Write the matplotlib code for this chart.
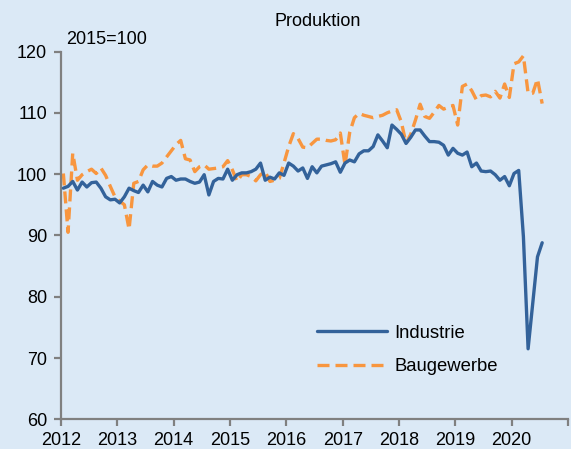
import numpy as np
import matplotlib
matplotlib.use("Agg")
import matplotlib.pyplot as plt

plt.rcParams['font.family'] = ['Liberation Sans', 'DejaVu Sans']

# Monthly data, Jan 2012 .. Jul 2020 (2015=100)
start_year = 2012
industrie = [
    97.7, 98.0, 98.8, 97.4, 98.7, 97.9, 98.6, 98.7, 97.7, 96.3, 95.8, 95.9,   # 2012
    95.3, 96.3, 97.7, 97.3, 97.0, 98.2, 97.1, 98.8, 98.2, 97.9, 99.3, 99.6,   # 2013
    99.0, 99.2, 99.2, 98.8, 98.5, 98.7, 99.9, 96.6, 98.8, 99.3, 99.2, 100.8,  # 2014
    99.0, 99.9, 100.2, 100.2, 100.4, 100.8, 101.8, 99.0, 99.5, 99.2, 100.2, 99.8,  # 2015
    101.8, 101.3, 100.5, 101.0, 99.3, 101.2, 100.2, 101.3, 101.5, 101.7, 102.0, 100.3,  # 2016
    101.8, 102.3, 102.0, 103.3, 103.8, 103.8, 104.5, 106.4, 105.4, 104.3, 108.0, 107.3,  # 2017
    106.5, 105.0, 106.0, 107.2, 107.2, 106.2, 105.3, 105.3, 105.2, 104.7, 103.1, 104.2,  # 2018
    103.4, 103.1, 103.6, 101.2, 101.8, 100.5, 100.4, 100.5, 99.9, 99.0, 99.6, 98.1,  # 2019
    100.1, 100.6, 89.8, 71.5, 79.0, 86.5, 88.8,  # 2020
]
baugewerbe = [
    100.1, 90.5, 103.4, 99.0, 99.9, 100.4, 100.8, 100.1, 101.0, 99.8, 98.0, 96.3,  # 2012
    95.6, 95.0, 91.0, 98.5, 98.8, 100.7, 101.5, 101.3, 101.3, 101.8, 102.8, 103.8,  # 2013
    104.8, 105.5, 102.5, 102.3, 100.4, 101.2, 101.5, 100.8, 100.9, 101.0, 101.2, 102.2,  # 2014
    100.7, 98.8, 99.9, 99.9, 99.6, 98.9, 99.9, 100.4, 98.8, 99.0, 99.3, 101.8,  # 2015
    104.5, 106.6, 105.8, 104.4, 104.3, 105.0, 105.7, 105.7, 105.5, 105.4, 105.6, 106.7,  # 2016
    101.5, 106.8, 109.2, 109.9, 109.6, 109.4, 109.2, 109.4, 109.6, 110.0, 110.3, 110.5,  # 2017
    108.5, 105.0, 106.5, 108.8, 111.4, 109.4, 109.1, 110.1, 111.2, 110.6, 110.9, 111.2,  # 2018
    108.0, 114.3, 114.7, 113.6, 112.1, 112.8, 112.9, 112.6, 113.5, 112.4, 114.7, 112.5,  # 2019
    118.0, 118.3, 119.3, 113.2, 113.2, 115.5, 111.5,  # 2020
]
series_labels = ["Industrie", "Baugewerbe"]
title = "Produktion"
base_note = "2015=100"
year_ticks = list(range(2012, 2022))
year_labels = [str(y) for y in range(2012, 2021)] + [""]
y_ticks = [60, 70, 80, 90, 100, 110, 120]

n = len(industrie)
x = start_year + (np.arange(n) + 0.5) / 12.0

bg = '#dbe9f6'
fig = plt.figure(figsize=(5.71, 4.49), dpi=100, facecolor=bg)
ax = fig.add_axes([61/571, 1 - 419.3/449, 507/571, (419.3 - 51.5)/449])
ax.set_facecolor(bg)

ax.plot(x, industrie, color='#33629a', lw=2.4, label=series_labels[0],
        solid_joinstyle='round', solid_capstyle='round', zorder=3)
ax.plot(x, baugewerbe, color='#f8963f', lw=2.4, ls=(0, (3.6, 1.8)),
        label=series_labels[1], zorder=2)

ax.set_xlim(2012, 2021)
ax.set_ylim(60, 120)
ax.set_xticks(year_ticks)
ax.set_xticklabels(year_labels)
ax.set_yticks(y_ticks)

for s in ['top', 'right']:
    ax.spines[s].set_visible(False)
for s in ['left', 'bottom']:
    ax.spines[s].set_color('#808080')
    ax.spines[s].set_linewidth(1.6)
ax.tick_params(axis='both', direction='out', length=5, width=1.6, color='#808080',
               labelsize=13, labelcolor='black')
ax.tick_params(axis='x', pad=4)
ax.tick_params(axis='y', pad=5)

fig.text(318/571, 1 - 22/449, title, ha='center', va='center', fontsize=13)
fig.text(66/571, 1 - 40/449, base_note, ha='left', va='center', fontsize=13)

leg = ax.legend(loc='center left', bbox_to_anchor=(0.505, 0.188), frameon=False,
                handlelength=3.8, handletextpad=0.38, labelspacing=0.9,
                borderpad=0, borderaxespad=0, fontsize=13.3)

fig.savefig('out.png', dpi=100, facecolor=bg)
